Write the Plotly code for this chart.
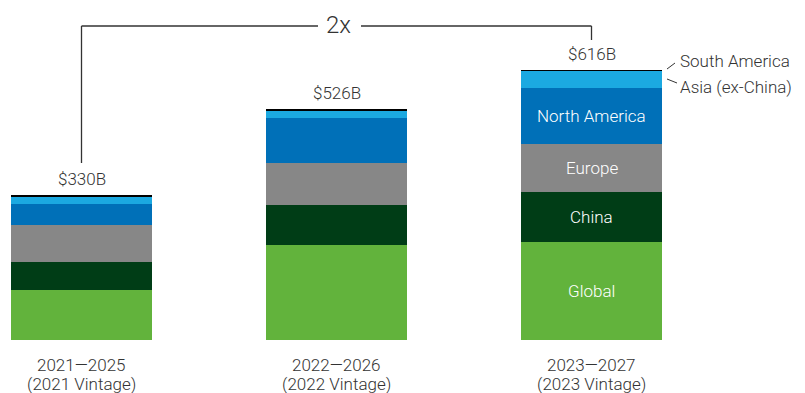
import plotly.graph_objects as go

period_labels = ["2021—2025", "2022—2026", "2023—2027"]
vintage_labels = ["(2021 Vintage)", "(2022 Vintage)", "(2023 Vintage)"]
totals = [330, 526, 616]
total_labels = ["$330B", "$526B", "$616B"]

segments = ["Global", "China", "Europe", "North America", "Asia (ex-China)", "South America"]
global_vals = [114, 216, 224]
china_vals = [64, 93, 114]
europe_vals = [84, 94, 110]
north_america_vals = [48, 103, 128]
asia_vals = [17, 18, 38]
south_america_vals = [3, 2, 2]

colors = ["#62B33C", "#003D16", "#878787", "#0070B8", "#1BA9E1", "#000000"]
series = [global_vals, china_vals, europe_vals, north_america_vals, asia_vals, south_america_vals]

FONT = "Roboto, 'Open Sans', sans-serif"
TXT = "#333333"
WT = 300

x = [0, 1, 2]
fig = go.Figure()
for name, vals, col in zip(segments, series, colors):
    fig.add_trace(go.Bar(x=x, y=vals, name=name, marker=dict(color=col, line=dict(width=0)),
                         width=0.553, showlegend=False, hoverinfo="skip"))

W, H = 805, 393
B = 53
PH = H - B
px_per_unit = 0.4383
yr = PH / px_per_unit
x0 = -81.5 / 255
x1 = (805 - 81.5) / 255

def py(p):  # pixel y -> paper y
    return (PH - p) / PH

def px(p):  # pixel x -> data x
    return x0 + p / 255

annotations = []
for i, (t, lab) in enumerate(zip(totals, total_labels)):
    annotations.append(dict(x=i, y=t, xref="x", yref="y", text=lab, showarrow=False,
                            yanchor="bottom", yshift=4, font=dict(family=FONT, size=17, color=TXT, weight=WT)))
    annotations.append(dict(x=i, y=py(365), xref="x", yref="paper", text=period_labels[i], showarrow=False,
                            yanchor="middle", font=dict(family=FONT, size=17, color=TXT, weight=WT)))
    annotations.append(dict(x=i, y=py(384), xref="x", yref="paper", text=vintage_labels[i], showarrow=False,
                            yanchor="middle", font=dict(family=FONT, size=17, color=TXT, weight=WT)))

# in-bar labels for the last bar
cum = 0
for name, vals in zip(segments[:4], series[:4]):
    v = vals[2]
    annotations.append(dict(x=2, y=cum + v / 2, xref="x", yref="y", text=name, showarrow=False,
                            yanchor="middle", font=dict(family=FONT, size=17, color="white", weight=WT)))
    cum += v

# right side labels
annotations.append(dict(x=px(678), y=py(61), xref="x", yref="paper", text="South America", showarrow=False,
                        xanchor="left", yanchor="middle", font=dict(family=FONT, size=17, color=TXT, weight=WT)))
annotations.append(dict(x=px(678), y=py(87), xref="x", yref="paper", text="Asia (ex-China)", showarrow=False,
                        xanchor="left", yanchor="middle", font=dict(family=FONT, size=17, color=TXT, weight=WT)))
# 2x label
annotations.append(dict(x=px(338), y=py(25), xref="x", yref="paper", text="2x", showarrow=False,
                        yanchor="middle", font=dict(family=FONT, size=24, color=TXT, weight=WT)))

lc = dict(color="#333333", width=1.3)
shapes = [
    dict(type="line", xref="x", yref="paper", x0=0, x1=0, y0=py(163), y1=py(26), line=lc),
    dict(type="line", xref="x", yref="paper", x0=0, x1=px(318), y0=py(26), y1=py(26), line=lc),
    dict(type="line", xref="x", yref="paper", x0=px(361), x1=2, y0=py(26), y1=py(26), line=lc),
    dict(type="line", xref="x", yref="paper", x0=2, x1=2, y0=py(26), y1=py(40), line=lc),
    dict(type="line", xref="x", yref="paper", x0=px(667), x1=px(675), y0=py(69), y1=py(63), line=dict(color="#333333", width=1)),
    dict(type="line", xref="x", yref="paper", x0=px(667), x1=px(677), y0=py(79), y1=py(83), line=dict(color="#333333", width=1)),
]

fig.update_layout(
    barmode="stack",
    width=W, height=H,
    margin=dict(l=0, r=0, t=0, b=B),
    plot_bgcolor="white", paper_bgcolor="white",
    xaxis=dict(range=[x0, x1], visible=False, fixedrange=True),
    yaxis=dict(range=[0, yr], visible=False, fixedrange=True),
    annotations=annotations,
    shapes=shapes,
    bargap=0,
)

fig.write_html("out.html", config={"displayModeBar": False},
               post_script="document.body.style.margin='0';document.body.style.overflow='hidden';")
